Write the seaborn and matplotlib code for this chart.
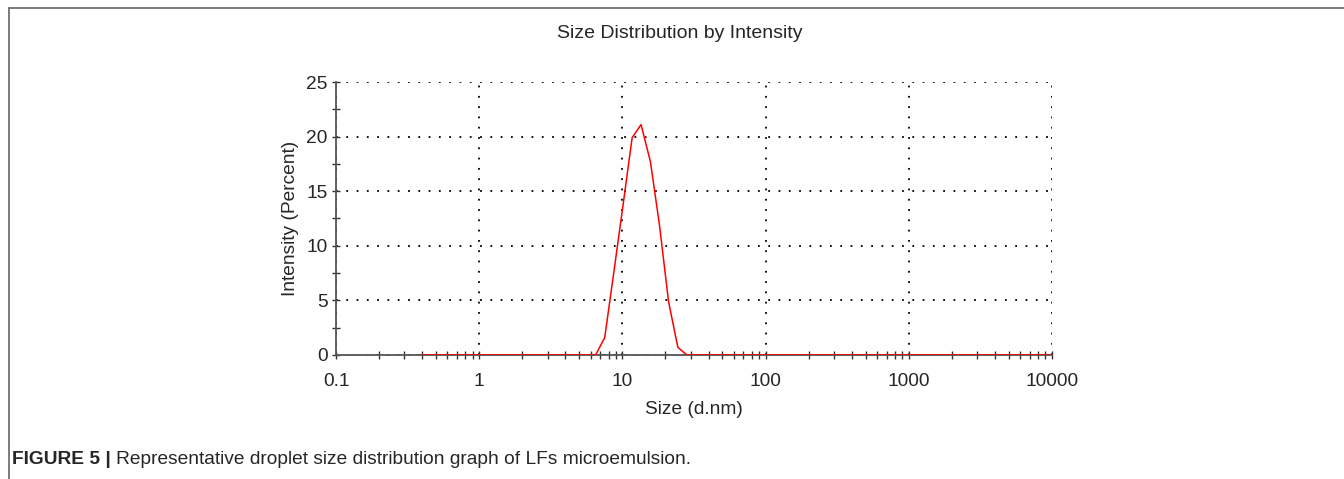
import matplotlib
matplotlib.use("Agg")
import matplotlib.pyplot as plt
import matplotlib.ticker as mticker
from matplotlib.lines import Line2D
import seaborn as sns

# Size bins (d.nm) and intensity (%)
size_nm = [0.4, 6.50, 7.53, 8.72, 10.1, 11.7, 13.5, 15.7, 18.2, 21.0, 24.4, 28.2, 10000]
intensity = [0.0, 0.0, 1.6, 7.6, 13.7, 19.9, 21.1, 17.7, 11.8, 4.9, 0.7, 0.0, 0.0]

x_ticks = [0.1, 1, 10, 100, 1000, 10000]
x_labels = ["0.1", "1", "10", "100", "1000", "10000"]
y_ticks = [0, 5, 10, 15, 20, 25]

sns.set_style("white")
plt.rcParams["font.family"] = ["Liberation Sans", "DejaVu Sans"]

fig = plt.figure(figsize=(13.44, 4.79), dpi=100)
ax = fig.add_axes([0.25, 0.2589, 0.5327, 0.5699])

sns.lineplot(x=size_nm, y=intensity, color="red", linewidth=1.1, ax=ax, zorder=3)

ax.set_xscale("log")
ax.set_xlim(0.1, 10000)
ax.set_ylim(0, 25)
ax.set_xticks(x_ticks)
ax.set_xticklabels(x_labels)
ax.set_yticks(y_ticks)
ax.yaxis.set_minor_locator(mticker.MultipleLocator(2.5))
ax.xaxis.set_minor_locator(mticker.LogLocator(base=10, subs=range(2, 10), numticks=20))
ax.xaxis.set_minor_formatter(mticker.NullFormatter())

ax.grid(True, which="major", color="black", linestyle=(0, (1, 4.7)), linewidth=1.3)
ax.grid(False, which="minor")

for side in ["top", "right"]:
    ax.spines[side].set_visible(False)
for side in ["left", "bottom"]:
    ax.spines[side].set_color("#555555")
    ax.spines[side].set_linewidth(1.3)

ax.tick_params(axis="both", which="both", bottom=True, left=True)
ax.tick_params(axis="both", which="major", direction="inout", length=6, width=1,
               color="#333333", labelsize=13.8)
ax.tick_params(axis="x", which="major", pad=10)
ax.tick_params(axis="y", which="major", pad=3)
ax.tick_params(axis="both", which="minor", direction="inout", length=6, width=1,
               color="#333333")

ax.set_xlabel("Size (d.nm)", fontsize=13.8, labelpad=8)
ax.set_ylabel("Intensity (Percent)", fontsize=13.8, labelpad=5)

fig.text(680 / 1344, 1 - 33 / 479, "Size Distribution by Intensity",
         ha="center", va="center", fontsize=14)

# page frame lines (top and left)
fig.add_artist(Line2D([9 / 1344, 9 / 1344], [0, 1 - 8 / 479], transform=fig.transFigure,
                      color="#666666", linewidth=1.2))
fig.add_artist(Line2D([9 / 1344, 1], [1 - 8 / 479, 1 - 8 / 479], transform=fig.transFigure,
                      color="#666666", linewidth=1.2))

# caption: bold lead-in then regular text
t1 = fig.text(12 / 1344, 1 - 460 / 479, "FIGURE 5 |", fontsize=13.8, fontweight="bold",
              va="center", ha="left")
fig.canvas.draw()
bb = t1.get_window_extent()
fig.text((bb.x1 + 5) / 1344, 1 - 460 / 479,
         "Representative droplet size distribution graph of LFs microemulsion.",
         fontsize=13.8, va="center", ha="left")

fig.savefig("out.png", dpi=100)
